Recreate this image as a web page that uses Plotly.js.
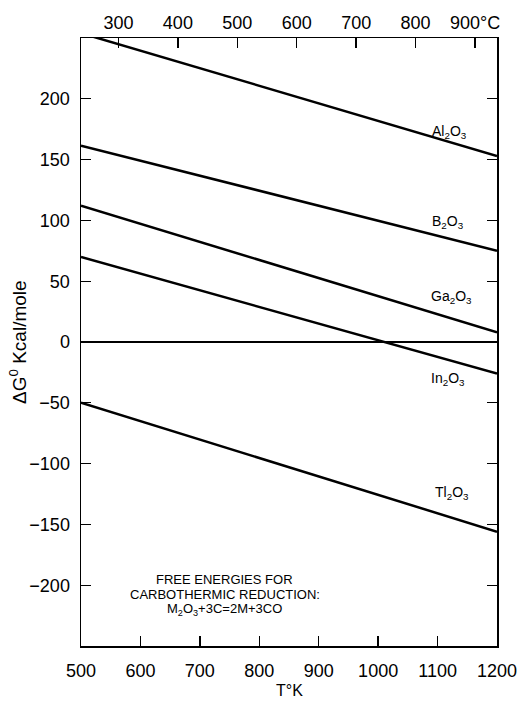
<!DOCTYPE html>
<html>
<head>
<meta charset="utf-8">
<script src="https://cdn.plot.ly/plotly-3.0.1.min.js"></script>
<style>html,body{margin:0;padding:0;background:#fff;}#chart{width:519px;height:701px;}</style>
</head>
<body>
<div id="chart"></div>
<script>
// Temperature (K) at the ends of each line
var temperatureK = [500, 1200];
// Free energy ΔG° (kcal/mole) for each oxide at 500 K and 1200 K
var seriesNames = ["Al<sub>2</sub>O<sub>3</sub>", "B<sub>2</sub>O<sub>3</sub>", "Ga<sub>2</sub>O<sub>3</sub>", "In<sub>2</sub>O<sub>3</sub>", "Tl<sub>2</sub>O<sub>3</sub>"];
var al2o3 = [254, 153];
var b2o3 = [161.5, 75];
var ga2o3 = [112, 8];
var in2o3 = [70, -26];
var tl2o3 = [-50, -156];
var seriesValues = [al2o3, b2o3, ga2o3, in2o3, tl2o3];
// Label anchor points (data coordinates)
var labelK = [1120, 1117, 1123, 1117, 1125];
var labelG = [173, 99, 37, -30.5, -124];
// Tick labels
var kelvinTicks = [500, 600, 700, 800, 900, 1000, 1100, 1200];
var celsiusTicks = [300, 400, 500, 600, 700, 800, 900];
var celsiusText = ["300", "400", "500", "600", "700", "800", "900°C"];
var gTicks = [-200, -150, -100, -50, 0, 50, 100, 150, 200];

var FONT = "Liberation Sans, Arial, sans-serif";
var traces = seriesValues.map(function (v, i) {
  return {
    x: temperatureK, y: v, type: "scatter", mode: "lines",
    name: seriesNames[i], line: {color: "#000", width: 2.5},
    hoverinfo: "skip", showlegend: false
  };
});
// empty carrier trace so the top Celsius axis is drawn (no visible points)
traces.push({
  x: celsiusTicks, y: celsiusTicks.map(function () { return null; }),
  xaxis: "x2", yaxis: "y", type: "scatter", mode: "markers",
  hoverinfo: "skip", showlegend: false
});

var annotations = seriesNames.map(function (n, i) {
  return {x: labelK[i], y: labelG[i], xref: "x", yref: "y", text: n, showarrow: false,
    font: {family: FONT, size: 14, color: "#000"}, xanchor: "center", yanchor: "middle"};
});
var noteLines = ["FREE ENERGIES FOR", "CARBOTHERMIC REDUCTION:", "M<sub>2</sub>O<sub>3</sub>+3C=2M+3CO"];
var noteG = [-195, -207.5, -220];
noteLines.forEach(function (t, i) {
  annotations.push({x: 742, y: noteG[i], xref: "x", yref: "y", text: t, showarrow: false,
    font: {family: FONT, size: 13, color: "#000"}, xanchor: "center", yanchor: "middle"});
});
annotations.push({x: 0, y: 0.5, xref: "paper", yref: "paper", xshift: -63, textangle: -90,
  text: "ΔG<sup>0</sup> Kcal/mole", showarrow: false, font: {family: FONT, size: 19, color: "#000"},
  xanchor: "center", yanchor: "middle"});
annotations.push({x: 0.5, y: 0, xref: "paper", yref: "paper", yshift: -44,
  text: "T°K", showarrow: false, font: {family: FONT, size: 16, color: "#000"},
  xanchor: "center", yanchor: "middle"});

var layout = {
  width: 519, height: 701,
  margin: {l: 81, r: 22, t: 38, b: 55},
  paper_bgcolor: "#fff", plot_bgcolor: "#fff",
  showlegend: false,
  font: {family: FONT, size: 18, color: "#000"},
  xaxis: {
    range: [500, 1200], tickvals: kelvinTicks, ticks: "inside", ticklen: 10, tickwidth: 1.3,
    tickcolor: "#000", showline: true, linecolor: "#000", linewidth: 1.5, mirror: true,
    showgrid: false, zeroline: false, ticklabelstandoff: 8, fixedrange: true
  },
  xaxis2: {
    overlaying: "x", side: "top", anchor: "y", range: [237, 937],
    tickvals: celsiusTicks, ticktext: celsiusText, ticks: "inside", ticklen: 10, tickwidth: 1.3,
    tickcolor: "#000", showline: false, showgrid: false, zeroline: false, ticklabelstandoff: 4
  },
  yaxis: {
    range: [-250, 250], tickvals: gTicks, ticks: "inside", ticklen: 10, tickwidth: 1.3,
    tickcolor: "#000", showline: true, linecolor: "#000", linewidth: 1.5, mirror: "ticks",
    showgrid: false, zeroline: true, zerolinecolor: "#000", zerolinewidth: 1.2,
    ticklabelstandoff: 6
  },
  annotations: annotations
};
Plotly.newPlot("chart", traces, layout, {displayModeBar: false, staticPlot: true});
</script>
</body>
</html>
